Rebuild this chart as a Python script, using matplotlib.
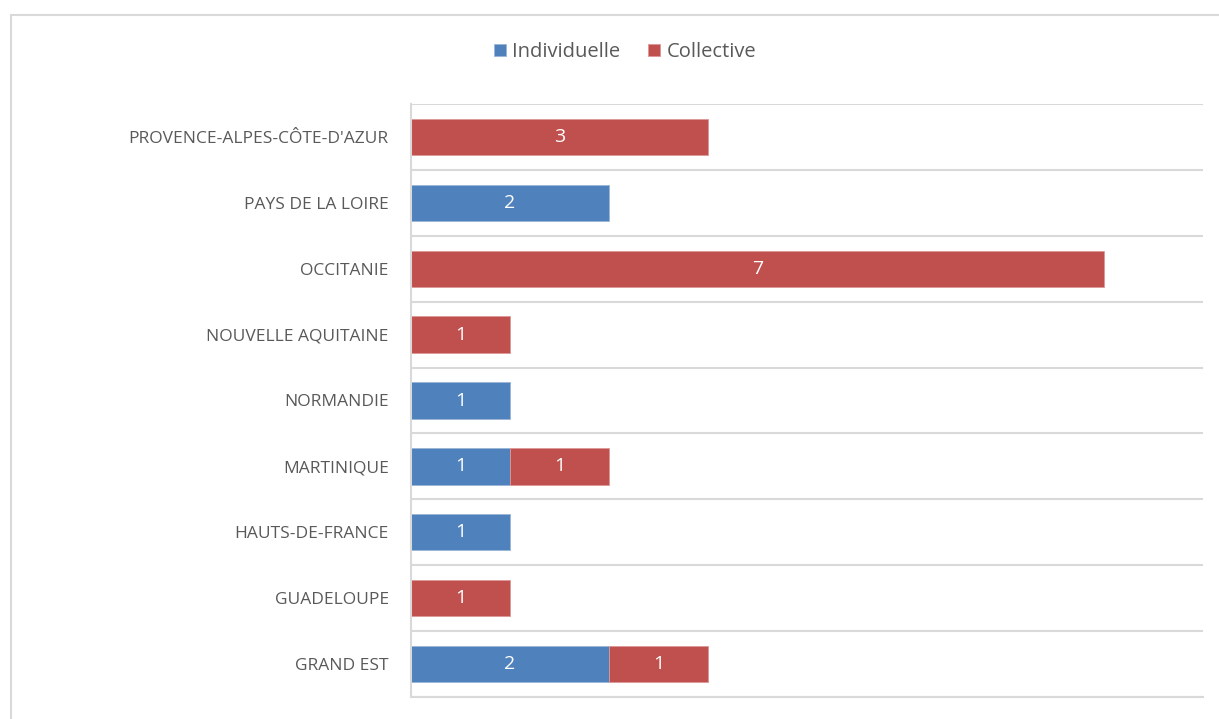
import matplotlib
matplotlib.use("Agg")
import matplotlib.pyplot as plt
from matplotlib.patches import Rectangle
import numpy as np

regions = ["GRAND EST", "GUADELOUPE", "HAUTS-DE-FRANCE", "MARTINIQUE", "NORMANDIE",
           "NOUVELLE AQUITAINE", "OCCITANIE", "PAYS DE LA LOIRE", "PROVENCE-ALPES-CÔTE-D'AZUR"]
individuelle = [2, 0, 1, 1, 1, 0, 0, 2, 0]
collective = [1, 1, 0, 1, 0, 1, 7, 0, 3]
series_names = ["Individuelle", "Collective"]

blue = "#4f81bd"
red = "#c0504d"
grid_c = "#d9d9d9"
text_c = "#595959"

plt.rcParams['font.family'] = ['Open Sans', 'DejaVu Sans']

W, H = 1219, 719
fig = plt.figure(figsize=(W / 100, H / 100), dpi=100)
ax = fig.add_axes([411 / W, 1 - 697 / H, (1203 - 411) / W, (697 - 104) / H])

y = np.arange(len(regions))
ind = np.array(individuelle)
col = np.array(collective)
b1 = ax.barh(y, ind, height=0.55, color=blue, label=series_names[0],
             edgecolor=[("#9bb5d8" if v else "none") for v in ind], linewidth=0.6)
b2 = ax.barh(y, col, left=ind, height=0.55, color=red, label=series_names[1],
             edgecolor=[("#dc9795" if v else "none") for v in col], linewidth=0.6)

for bars, vals in ((b1, individuelle), (b2, collective)):
    ax.bar_label(bars, labels=[str(v) if v else "" for v in vals], label_type="center",
                 color="white", fontsize=14)

ax.set_xlim(0, 8)
ax.set_ylim(-0.5, len(regions) - 0.5)
ax.set_xticks([])
ax.set_yticks(y)
ax.set_yticklabels(regions, fontsize=12.5, color=text_c)
ax.tick_params(axis="y", length=0, pad=16)
ax.set_yticks(np.arange(-0.5, len(regions), 1.0), minor=True)
ax.tick_params(axis="y", which="minor", length=0)
ax.grid(axis="y", which="minor", color=grid_c, linewidth=1.5)
ax.set_axisbelow(True)
for s in ("top", "right"):
    ax.spines[s].set_visible(False)
ax.spines["left"].set_color(grid_c)
ax.spines["left"].set_linewidth(1.5)
ax.spines["bottom"].set_color(grid_c)
ax.spines["bottom"].set_linewidth(1.5)

b1l = ax.barh([0], [0], color=blue)
fig.legend(handles=[b1, b2], labels=series_names, loc="center", bbox_to_anchor=(625 / W, 1 - 52 / H),
           ncol=2, frameon=False, fontsize=14.5, labelcolor=text_c, handlelength=0.6,
           handleheight=0.6, handletextpad=0.3, columnspacing=1.4)
b1l.remove()

fig.patches.append(Rectangle((11 / W, -0.05), 1.1, 1 - 15 / H + 0.05, transform=fig.transFigure,
                             fill=False, edgecolor=grid_c, linewidth=1.5))

fig.savefig("out.png", dpi=100)
